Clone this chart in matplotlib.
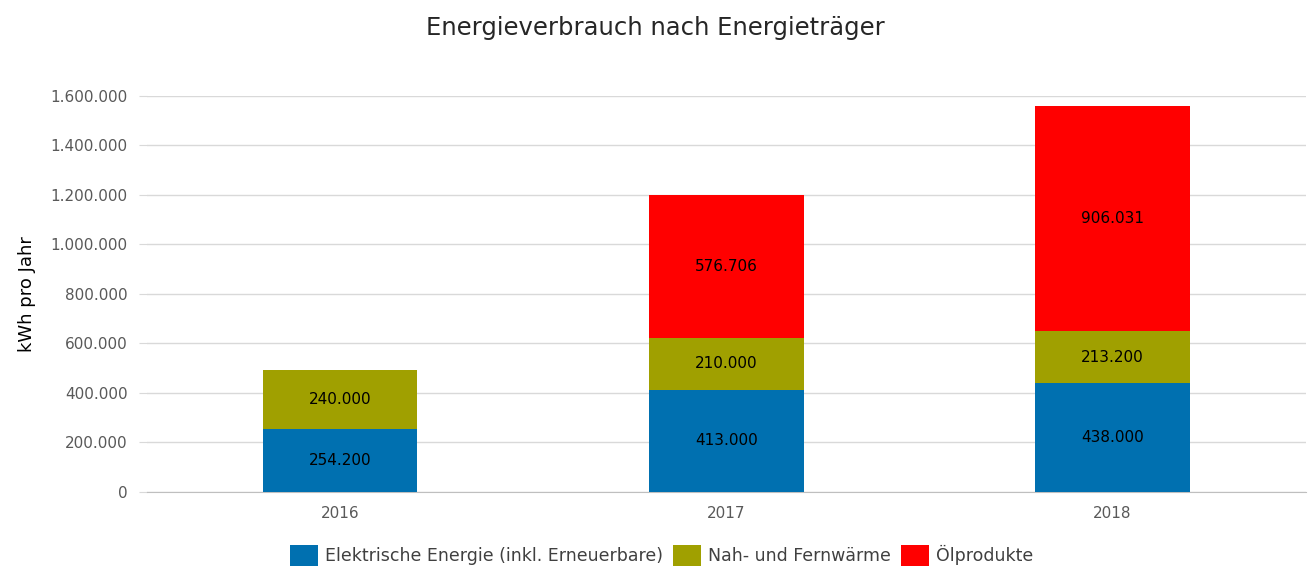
import numpy as np
import matplotlib.pyplot as plt
from matplotlib.ticker import FuncFormatter

years = ["2016", "2017", "2018"]
elektrisch = [254200, 413000, 438000]
fernwaerme = [240000, 210000, 213200]
oel = [0, 576706, 906031]

series_names = ["Elektrische Energie (inkl. Erneuerbare)", "Nah- und Fernwärme", "Ölprodukte"]
colors = ["#0070b0", "#a0a000", "#ff0000"]


def de_fmt(v, pos=None):
    return f"{int(round(v)):,}".replace(",", ".")


fig = plt.figure(figsize=(13.11, 5.70), dpi=100)
ax = fig.add_axes([0.112, 0.137, 0.884, 0.695])

x = np.arange(len(years))
width = 0.4
bottom = np.zeros(len(years))
for vals, name, col in zip([elektrisch, fernwaerme, oel], series_names, colors):
    vals = np.array(vals, dtype=float)
    ax.bar(x, vals, width, bottom=bottom, color=col, label=name, zorder=3)
    for xi, v, b in zip(x, vals, bottom):
        if v > 0:
            ax.text(xi, b + v / 2, de_fmt(v), ha="center", va="center",
                    fontsize=11, color="black", zorder=4)
    bottom += vals

ax.set_xlim(-0.5, len(years) - 0.5)
ax.set_ylim(0, 1600000)
ax.set_yticks(np.arange(0, 1600001, 200000))
ax.yaxis.set_major_formatter(FuncFormatter(de_fmt))
ax.set_xticks(x)
ax.set_xticklabels(years)

ax.grid(axis="y", color="#d9d9d9", linewidth=1, zorder=0)
for s in ["top", "right", "left"]:
    ax.spines[s].set_visible(False)
ax.spines["bottom"].set_color("#bfbfbf")
ax.tick_params(axis="y", colors="#595959", labelsize=11, length=6, color="#d9d9d9", pad=8)
ax.tick_params(axis="x", colors="#595959", labelsize=11, length=0, pad=10)
ax.set_ylabel("kWh pro Jahr", fontsize=13, labelpad=10)

fig.suptitle("Energieverbrauch nach Energieträger", fontsize=17.5, y=0.972, color="#262626")

ax.legend(loc="upper center", bbox_to_anchor=(0.444, -0.095), ncol=3, frameon=False,
          fontsize=12.5, handlelength=1.6, handleheight=1.5, handletextpad=0.4,
          columnspacing=0.6, labelcolor="#404040")

fig.savefig("out.png", dpi=100)
